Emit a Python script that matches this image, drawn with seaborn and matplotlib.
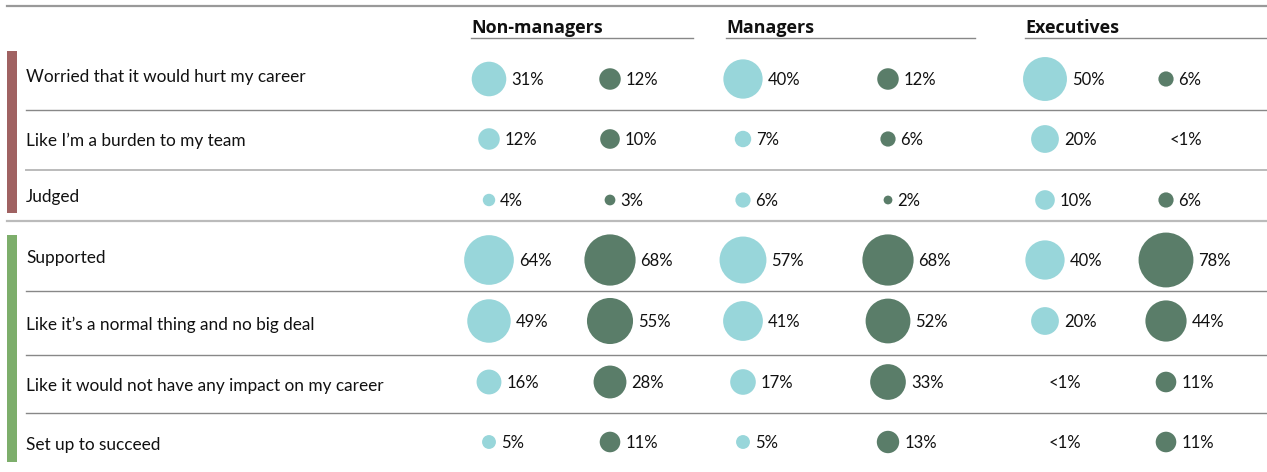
import numpy as np
import pandas as pd
import matplotlib
matplotlib.use('Agg')
import matplotlib.pyplot as plt
import seaborn as sns

# rows of the table
row_labels = [
    'Worried that it would hurt my career',
    'Like I\u2019m a burden to my team',
    'Judged',
    'Supported',
    'Like it\u2019s a normal thing and no big deal',
    'Like it would not have any impact on my career',
    'Set up to succeed',
]
groups = ['Non-managers', 'Managers', 'Executives']

# values in %, None = "<1%"
nonmgr_light = [31, 12, 4, 64, 49, 16, 5]
nonmgr_dark = [12, 10, 3, 68, 55, 28, 11]
mgr_light = [40, 7, 6, 57, 41, 17, 5]
mgr_dark = [12, 6, 2, 68, 52, 33, 13]
exec_light = [50, 20, 10, 40, 20, None, None]
exec_dark = [6, None, 6, 78, 44, 11, 11]

series_cols = [nonmgr_light, nonmgr_dark, mgr_light, mgr_dark, exec_light, exec_dark]
series_kind = ['light', 'dark'] * 3

# layout (pixel space of the 1267x472 figure)
col_x = [489, 610, 743, 888, 1045, 1166]
row_y = [79, 139, 200, 260, 321, 382, 442]
label_y = [77, 141, 197, 258, 325, 386, 445]
header_x = [471, 726, 1025]
header_end = [693, 975, 1267]

light_c = '#98D6DA'
dark_c = '#5A7D69'
bad_c = '#A06262'
good_c = '#7DAE6B'

recs = []
for ci, (vals, kind) in enumerate(zip(series_cols, series_kind)):
    for ri, v in enumerate(vals):
        recs.append({'x': col_x[ci], 'y': row_y[ri], 'value': v, 'kind': kind})
df = pd.DataFrame(recs)
df['value'] = df['value'].astype(float)

plt.rcParams['font.family'] = ['Lato', 'DejaVu Sans']
fig = plt.figure(figsize=(12.67, 4.72), dpi=100)
ax = fig.add_axes([0, 0, 1, 1])
ax.set_xlim(0, 1267)
ax.set_ylim(472, 0)
ax.axis('off')

sns.scatterplot(data=df.dropna(), x='x', y='y', hue='kind', size='value',
                palette={'light': light_c, 'dark': dark_c},
                sizes=(0, 2000), size_norm=(0, 100), linewidth=0,
                legend=False, ax=ax, zorder=3)

# percent labels next to the bubbles
for _, r in df.iterrows():
    if np.isnan(r['value']):
        ax.text(r['x'] + 4, r['y'] + 1, '<1%', fontsize=12, va='center', ha='left', color='#111111')
    else:
        rad = np.sqrt(20 * r['value']) / 2 / 0.72
        ax.text(r['x'] + rad + 5, r['y'] + 1, f"{int(r['value'])}%", fontsize=12,
                va='center', ha='left', color='#111111')

# row labels
for lab, y in zip(row_labels, label_y):
    ax.text(26, y, lab, fontsize=12.4, va='center', ha='left', color='#111111')

# headers
for g, x0, x1 in zip(groups, header_x, header_end):
    ax.text(x0, 28, g, fontsize=12.9, fontweight='bold', va='center', ha='left',
            color='#111111', family=['Open Sans', 'DejaVu Sans'])
    ax.plot([x0, x1], [38, 38], color='#888888', lw=1)

# rules
ax.plot([7, 1267], [6, 6], color='#999999', lw=1.6)
for y in [110, 291, 355, 413]:
    ax.plot([26, 1267], [y, y], color='#888888', lw=1)
ax.plot([26, 1267], [170, 170], color='#BBBBBB', lw=1.4)
ax.plot([7, 1267], [221, 221], color='#BBBBBB', lw=1.6)

# colored side bars
ax.fill_between([7, 17], 51, 213, color=bad_c, lw=0)
ax.fill_between([7, 17], 235, 462, color=good_c, lw=0)

fig.savefig('out.png', dpi=100)
